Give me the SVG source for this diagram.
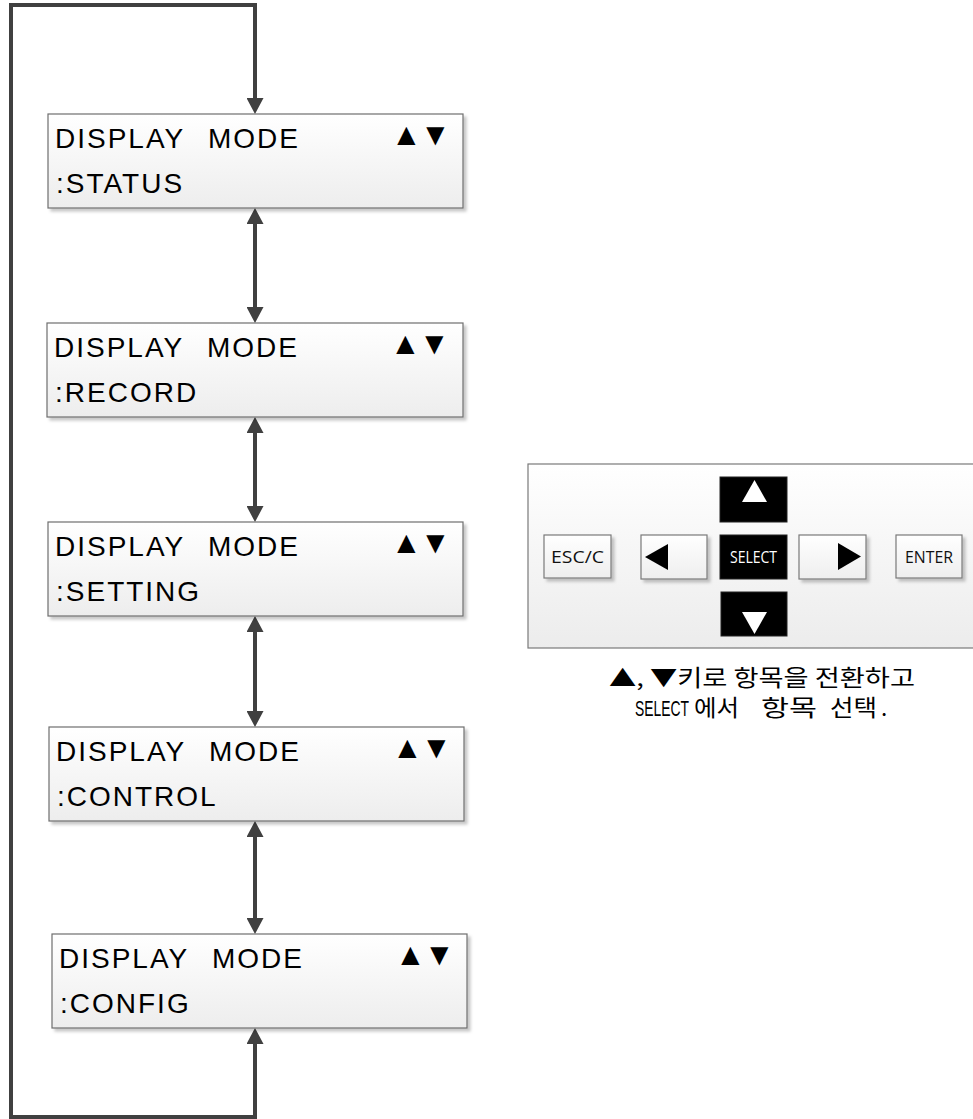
<svg xmlns="http://www.w3.org/2000/svg" width="973" height="1119" viewBox="0 0 973 1119">
<style>
.box{fill:url(#gBox);stroke:#6e6e6e;stroke-width:1.2}
.t1{font-family:"Liberation Sans",Arial,sans-serif;font-size:28px;fill:#000;letter-spacing:2px}
.tri{font-family:"Liberation Sans",Arial,sans-serif;font-size:31px;fill:#000}
.conn{fill:none;stroke:#404040;stroke-width:4}
.key{fill:url(#gKey);stroke:#7a7a7a;stroke-width:1.2}
.keyB{fill:#000;stroke:#222;stroke-width:1}
.kt{font-family:"Open Sans","Noto Sans",sans-serif;font-size:16px;fill:#111;text-anchor:middle}
.cap{font-family:"Noto Sans CJK KR","Noto Sans",sans-serif;font-size:22.5px;fill:#000}
</style>
<defs>
<linearGradient id="gBox" x1="0" y1="0" x2="0" y2="1"><stop offset="0" stop-color="#ffffff"/><stop offset="1" stop-color="#ededed"/></linearGradient>
<linearGradient id="gKey" x1="0" y1="0" x2="0" y2="1"><stop offset="0" stop-color="#ffffff"/><stop offset="1" stop-color="#eeeeee"/></linearGradient>
<linearGradient id="gPanel" x1="0" y1="0" x2="0" y2="1"><stop offset="0" stop-color="#ffffff"/><stop offset="1" stop-color="#ececec"/></linearGradient>
<filter id="sh" x="-5%" y="-10%" width="115%" height="130%"><feDropShadow dx="3" dy="3" stdDeviation="1.5" flood-color="#000" flood-opacity="0.22"/></filter>
<marker id="ah" viewBox="0 0 16 17" refX="12" refY="8.5" markerWidth="16" markerHeight="17" markerUnits="userSpaceOnUse" orient="auto-start-reverse"><path d="M0,0 L16,8.5 L0,17 Z" fill="#404040"/></marker>
</defs>
<rect width="973" height="1119" fill="#fff"/>

<g id="connectors">
<path class="conn" d="M255,1032 L255,1117 L11,1117 L11,5 L255,5 L255,110" marker-start="url(#ah)" marker-end="url(#ah)"/>
<path class="conn" d="M255,212 L255,319" marker-start="url(#ah)" marker-end="url(#ah)"/>
<path class="conn" d="M255,421 L255,518" marker-start="url(#ah)" marker-end="url(#ah)"/>
<path class="conn" d="M255,620 L255,723" marker-start="url(#ah)" marker-end="url(#ah)"/>
<path class="conn" d="M255,825 L255,930" marker-start="url(#ah)" marker-end="url(#ah)"/>
</g>

<g id="mode-status">
<rect class="box" x="48" y="114" width="415" height="94" filter="url(#sh)"/>
<text class="t1" x="55" y="148">DISPLAY</text><text class="t1" x="208" y="148">MODE</text>
<text class="tri" x="391" y="145">▲</text><text class="tri" x="420" y="145">▼</text>
<text class="t1" x="56" y="193">:STATUS</text>
</g>
<g id="mode-record">
<rect class="box" x="47" y="323" width="416" height="94" filter="url(#sh)"/>
<text class="t1" x="54" y="357">DISPLAY</text><text class="t1" x="207" y="357">MODE</text>
<text class="tri" x="390" y="354">▲</text><text class="tri" x="419" y="354">▼</text>
<text class="t1" x="55" y="402">:RECORD</text>
</g>
<g id="mode-setting">
<rect class="box" x="48" y="522" width="415" height="94" filter="url(#sh)"/>
<text class="t1" x="55" y="556">DISPLAY</text><text class="t1" x="208" y="556">MODE</text>
<text class="tri" x="391" y="553">▲</text><text class="tri" x="420" y="553">▼</text>
<text class="t1" x="56" y="601">:SETTING</text>
</g>
<g id="mode-control">
<rect class="box" x="49" y="727" width="415" height="94" filter="url(#sh)"/>
<text class="t1" x="56" y="761">DISPLAY</text><text class="t1" x="209" y="761">MODE</text>
<text class="tri" x="392" y="758">▲</text><text class="tri" x="421" y="758">▼</text>
<text class="t1" x="57" y="806">:CONTROL</text>
</g>
<g id="mode-config">
<rect class="box" x="52" y="934" width="415" height="94" filter="url(#sh)"/>
<text class="t1" x="59" y="968">DISPLAY</text><text class="t1" x="212" y="968">MODE</text>
<text class="tri" x="395" y="965">▲</text><text class="tri" x="424" y="965">▼</text>
<text class="t1" x="60" y="1013">:CONFIG</text>
</g>

<g id="keypad">
<rect x="528" y="464" width="460" height="184" fill="url(#gPanel)" stroke="#7a7a7a" stroke-width="1.2"/>
<g id="key-esc"><rect class="key" x="544" y="535" width="67" height="43" filter="url(#sh)"/><text class="kt" x="577.5" y="563" textLength="53" lengthAdjust="spacingAndGlyphs">ESC/C</text></g>
<g id="key-left"><rect class="key" x="641" y="535" width="66" height="44" filter="url(#sh)"/><polygon points="645,557 668,544 668,570" fill="#000"/></g>
<g id="key-up"><rect class="keyB" x="720" y="477" width="67" height="45"/><polygon points="754.5,480 767,502 742,502" fill="#fff"/></g>
<g id="key-select"><rect class="keyB" x="720" y="535" width="67" height="44"/><text class="kt" x="753.5" y="563" style="fill:#fff" textLength="47" lengthAdjust="spacingAndGlyphs">SELECT</text></g>
<g id="key-down"><rect class="keyB" x="721" y="592" width="66" height="44"/><polygon points="742,612 767,612 754.5,634" fill="#fff"/></g>
<g id="key-right"><rect class="key" x="799" y="535" width="67" height="44" filter="url(#sh)"/><polygon points="838,543 861,556.5 838,570" fill="#000"/></g>
<g id="key-enter"><rect class="key" x="896" y="535" width="66" height="43" filter="url(#sh)"/><text class="kt" x="929" y="563" textLength="48" lengthAdjust="spacingAndGlyphs">ENTER</text></g>
</g>

<g id="caption">
<text class="cap" x="609" y="686" textLength="306" lengthAdjust="spacingAndGlyphs">▲, ▼키로 항목을 전환하고</text>
<text x="635" y="716" textLength="54" lengthAdjust="spacingAndGlyphs" style="font-family:'Liberation Sans',sans-serif;font-size:22px">SELECT</text>
<text class="cap" x="694" y="716" textLength="45" lengthAdjust="spacingAndGlyphs">에서</text>
<text class="cap" x="761" y="716" textLength="56" lengthAdjust="spacingAndGlyphs">항목</text>
<text class="cap" x="830" y="716" textLength="47" lengthAdjust="spacingAndGlyphs">선택</text>
<text class="cap" x="881" y="716">.</text>
</g>
</svg>
